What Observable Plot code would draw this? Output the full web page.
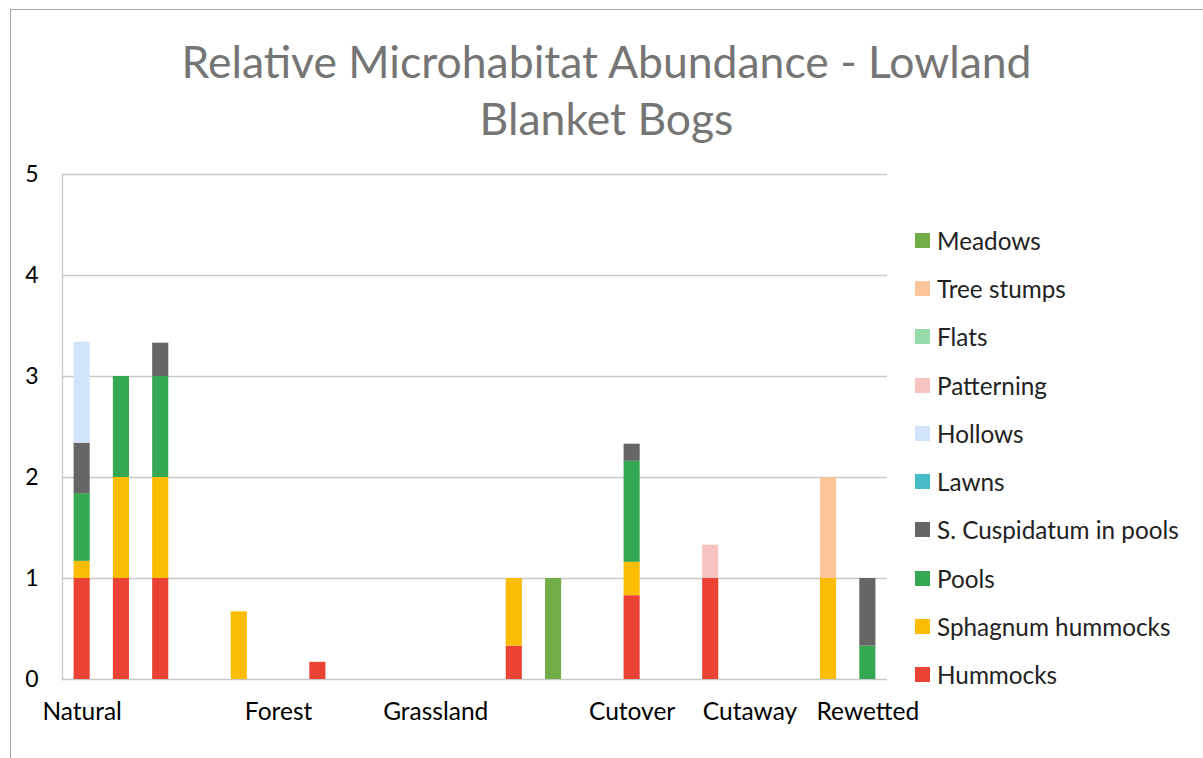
<!DOCTYPE html>
<html>
<head>
<meta charset="utf-8">
<script src="https://cdn.jsdelivr.net/npm/d3@7"></script>
<script src="https://cdn.jsdelivr.net/npm/@observablehq/plot@0.6"></script>
<style>
  html, body { margin: 0; padding: 0; background: #fff; }
  #wrap { position: relative; width: 1203px; height: 758px; overflow: hidden; font-family: Lato, "Open Sans", sans-serif; }
  #border { position: absolute; left: 10px; top: 9px; width: 1300px; height: 800px; border-left: 1px solid #a6a6a6; border-top: 1px solid #a6a6a6; }
  #title { position: absolute; left: 10px; width: 1193px; top: 32px; text-align: center; color: #757575; font-size: 44.5px; line-height: 57px; }
  #chart { position: absolute; left: 0; top: 0; }
  #chart svg { overflow: visible; }
  #chart svg g[aria-label="y-axis tick label"] text { font-size: 23px; }
  #chart svg g[aria-label="x-axis tick label"] text { font-size: 24.5px; }
  #legend { position: absolute; left: 915px; top: 216px; }
  .li { display: flex; align-items: center; height: 48.3px; font-size: 24.3px; color: #222; }
  .sw { width: 15px; height: 15px; margin-right: 7px; }
</style>
</head>
<body>
<div id="wrap">
  <div id="border"></div>
  <div id="title">Relative Microhabitat Abundance - Lowland<br>Blanket Bogs</div>
  <div id="chart"></div>
  <div id="legend"></div>
</div>
<script>
// 21 category slots; only some carry a label
const categories = ["Natural","","","","","Forest","","","","Grassland","","","","","Cutover","","","Cutaway","","","Rewetted"];

// series, bottom to top in stacking order
const seriesNames = ["Hummocks","Sphagnum hummocks","Pools","S. Cuspidatum in pools","Lawns","Hollows","Patterning","Flats","Tree stumps","Meadows"];
const seriesColors = ["#EA4335","#FBBC04","#34A853","#666666","#46BDC6","#D2E3FC","#F6C3C0","#96DCAA","#FCC59A","#70AD47"];

const hummocks          = [1,1,1,0,0,0,0.17,0,0,0,0,0.33,0,0,0.83,0,1,0,0,0,0];
const sphagnumHummocks  = [0.17,1,1,0,0.67,0,0,0,0,0,0,0.67,0,0,0.33,0,0,0,0,1,0];
const pools             = [0.67,1,1,0,0,0,0,0,0,0,0,0,0,0,1,0,0,0,0,0,0.33];
const sCuspidatum       = [0.5,0,0.33,0,0,0,0,0,0,0,0,0,0,0,0.17,0,0,0,0,0,0.67];
const lawns             = [0,0,0,0,0,0,0,0,0,0,0,0,0,0,0,0,0,0,0,0,0];
const hollows           = [1,0,0,0,0,0,0,0,0,0,0,0,0,0,0,0,0,0,0,0,0];
const patterning        = [0,0,0,0,0,0,0,0,0,0,0,0,0,0,0,0,0.33,0,0,0,0];
const flats             = [0,0,0,0,0,0,0,0,0,0,0,0,0,0,0,0,0,0,0,0,0];
const treeStumps        = [0,0,0,0,0,0,0,0,0,0,0,0,0,0,0,0,0,0,0,1,0];
const meadows           = [0,0,0,0,0,0,0,0,0,0,0,0,1,0,0,0,0,0,0,0,0];

const yTicks = [0,1,2,3,4,5];

const seriesValues = [hummocks, sphagnumHummocks, pools, sCuspidatum, lawns, hollows, patterning, flats, treeStumps, meadows];
const rows = [];
seriesNames.forEach((name, s) => {
  seriesValues[s].forEach((v, i) => { if (v > 0) rows.push({slot: i, series: name, value: v}); });
});

const chart = Plot.plot({
  width: 1203,
  height: 758,
  marginLeft: 62,
  marginRight: 316,
  marginTop: 174,
  marginBottom: 79,
  style: {fontFamily: "Lato, 'Open Sans', sans-serif", fontSize: "23px", color: "#000", background: "transparent", overflow: "visible"},
  x: {type: "band", domain: d3.range(categories.length), paddingInner: 0.59, paddingOuter: 0.295, round: false, label: null},
  y: {domain: [0, 5], label: null},
  color: {domain: seriesNames, range: seriesColors},
  marks: [
    Plot.ruleY(yTicks, {stroke: "#c8c8c8", strokeWidth: 1.3}),
    Plot.frame({anchor: "left", stroke: "#c8c8c8", strokeWidth: 1.3}),
    Plot.barY(rows, Plot.stackY({x: "slot", y: "value", fill: "series", order: seriesNames})),
    Plot.axisY({ticks: yTicks, tickFormat: d => String(d), tickSize: 0, tickPadding: 24, label: null}),
    Plot.axisX({tickSize: 0, tickPadding: 23, tickFormat: i => categories[i], label: null})
  ]
});
document.getElementById("chart").appendChild(chart);

const legend = document.getElementById("legend");
[...seriesNames].reverse().forEach(name => {
  const row = document.createElement("div");
  row.className = "li";
  const sw = document.createElement("div");
  sw.className = "sw";
  sw.style.background = seriesColors[seriesNames.indexOf(name)];
  const t = document.createElement("span");
  t.textContent = name;
  row.appendChild(sw); row.appendChild(t);
  legend.appendChild(row);
});
</script>
</body>
</html>
